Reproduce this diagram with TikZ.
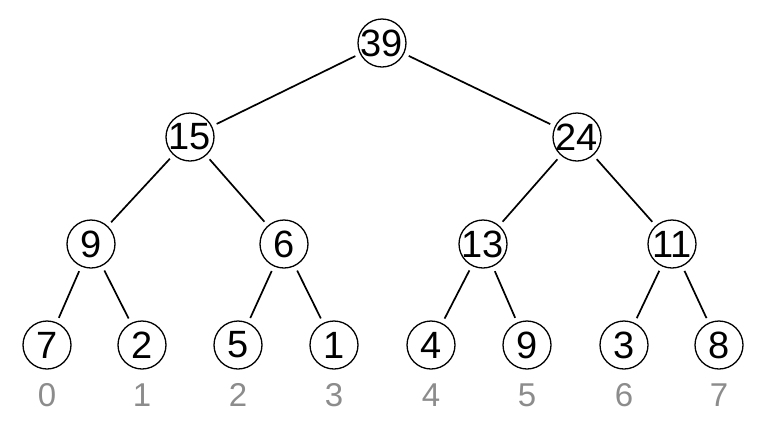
\documentclass[tikz,border=0pt]{standalone}
\usepackage{fontspec}
\setmainfont{Liberation Sans}
\usetikzlibrary{positioning}
\definecolor{idxgray}{RGB}{140,140,140}
\tikzset{
    key/.style = { draw, circle, line width = 1.3pt,
        inner sep = -1.2pt,
        minimum size = 48pt,
        font = \fontsize{38}{38}\selectfont
    },
    idx/.style = { text = idxgray,
        font = \fontsize{33}{33}\selectfont
    },
    link/.style = { line width = 1.7pt,
        shorten >= 5pt, shorten <= 5pt
    }
}
\begin{document}
\begin{tikzpicture}[x=1pt, y=-1pt]
        \useasboundingbox (0,0) rectangle (761,432);
        % root...
        \node[key] (r) at (382,43) {39};
        % level 1...
        \node[key] (a) at (190,137) {15};
        \node[key] (b) at (577,137) {24};
        % level 2...
        \node[key] (aa) at (91,244)  {9};
        \node[key] (ab) at (284,244) {6};
        \node[key] (ba) at (483,244) {13};
        \node[key] (bb) at (672,244) {11};
        % leaves...
        \node[key] (l0) at (47,345)  {7};
        \node[key] (l1) at (142,345) {2};
        \node[key] (l2) at (238,345) {5};
        \node[key] (l3) at (334,345) {1};
        \node[key] (l4) at (431,345) {4};
        \node[key] (l5) at (527,345) {9};
        \node[key] (l6) at (624,345) {3};
        \node[key] (l7) at (719,345) {8};
        % leaf indices...
        \node[idx] (i0) at (47,395)  {0};
        \node[idx] (i1) at (142,395) {1};
        \node[idx] (i2) at (238,395) {2};
        \node[idx] (i3) at (334,395) {3};
        \node[idx] (i4) at (431,395) {4};
        \node[idx] (i5) at (527,395) {5};
        \node[idx] (i6) at (624,395) {6};
        \node[idx] (i7) at (719,395) {7};

        % links...
        \draw[link] (r) -- (a);
        \draw[link] (r) -- (b);
        \draw[link] (a) -- (aa);
        \draw[link] (a) -- (ab);
        \draw[link] (b) -- (ba);
        \draw[link] (b) -- (bb);
        \draw[link] (aa) -- (l0);
        \draw[link] (aa) -- (l1);
        \draw[link] (ab) -- (l2);
        \draw[link] (ab) -- (l3);
        \draw[link] (ba) -- (l4);
        \draw[link] (ba) -- (l5);
        \draw[link] (bb) -- (l6);
        \draw[link] (bb) -- (l7);
\end{tikzpicture}
\end{document}
